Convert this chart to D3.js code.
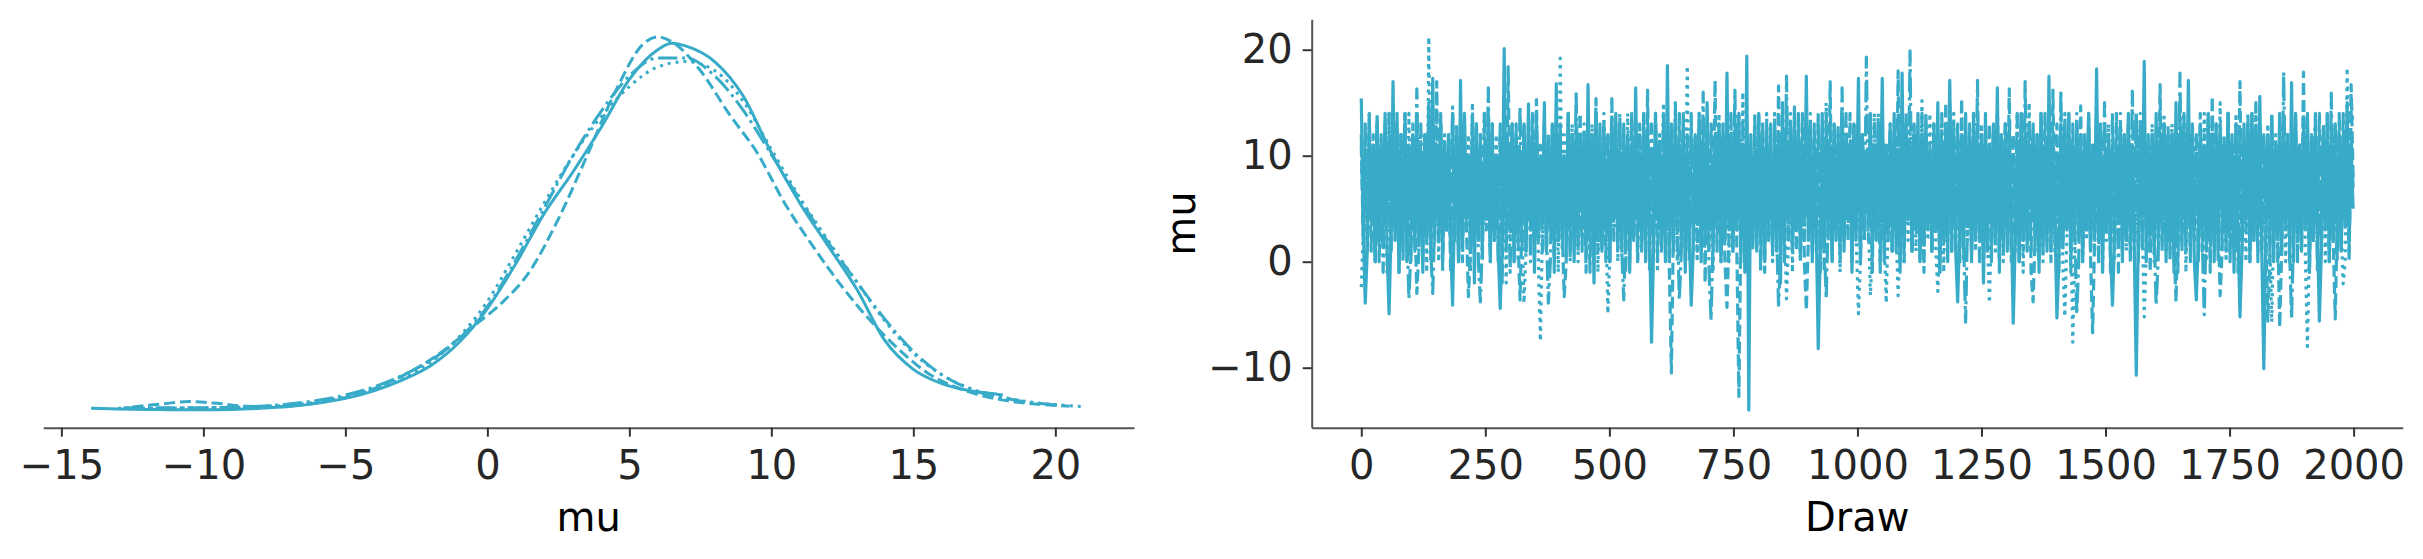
<!DOCTYPE html>
<html><head><meta charset="utf-8">
<script src="https://cdn.jsdelivr.net/npm/d3@7"></script>
<style>body{margin:0;background:#fff}</style>
</head><body>
<svg id="c" width="2423" height="559"></svg>
<script>
// ---------- DATA ----------
const kdeTicks = [-15, -10, -5, 0, 5, 10, 15, 20];
const drawTicks = [0, 250, 500, 750, 1000, 1250, 1500, 1750, 2000];
const muTicks = [-10, 0, 10, 20];

// KDE per chain: grid of mu values and density
const kdeGrid0 = [-13.9,-13,-12,-11,-10,-9,-8,-7,-6,-5,-4,-3,-2,-1,0,1,2,3,4,5,6,6.5,7,8,9,10,11,12,13,14,15,16,17,18,18.1];
const kdeDens0 = [0.0006,0.0004,0.0003,0.0002,0.0002,0.0003,0.0006,0.0011,0.0020,0.0034,0.0055,0.0085,0.0125,0.0190,0.0285,0.0410,0.0550,0.0665,0.0790,0.0925,0.1008,0.1026,0.1018,0.0975,0.0880,0.0720,0.0580,0.0460,0.0340,0.0195,0.0115,0.0075,0.0055,0.0045,0.0044];
const kdeGrid1 = [-12.5,-11.5,-10.5,-9.5,-8.5,-7.5,-6.5,-5.5,-4.5,-3.5,-2.5,-1.5,-0.5,0.5,1.5,2.5,3.5,4.5,5.5,6,6.5,7.5,8.5,9.5,10.5,11.5,12.5,13.5,14.5,15.5,16.5,17.5,18.5,19.5,20.5];
const kdeDens1 = [0.0010,0.0018,0.0025,0.0020,0.0012,0.0011,0.0016,0.0028,0.0046,0.0078,0.0118,0.0170,0.0235,0.0300,0.0390,0.0535,0.0710,0.0890,0.1025,0.1044,0.1030,0.0950,0.0830,0.0720,0.0575,0.0455,0.0345,0.0250,0.0170,0.0105,0.0065,0.0040,0.0025,0.0017,0.0012];
const kdeGrid2 = [-13,-12,-11,-10,-9,-8,-7,-6,-5,-4,-3,-2,-1,0,1,2,3,4,5,6,7,8,9,10,11,12,13,14,15,16,17,18,19,20,21];
const kdeDens2 = [0.0006,0.0006,0.0007,0.0008,0.0009,0.0011,0.0015,0.0024,0.0038,0.0060,0.0090,0.0135,0.0205,0.0305,0.0440,0.0580,0.0710,0.0820,0.0905,0.0960,0.0975,0.0950,0.0865,0.0730,0.0595,0.0475,0.0360,0.0250,0.0160,0.0100,0.0062,0.0040,0.0025,0.0016,0.0011];
const kdeGrid3 = [-12.8,-12,-11,-10,-9,-8,-7,-6,-5,-4,-3,-2,-1,0,1,2,3,4,5,6,7,8,9,10,11,12,13,14,15,16,17,18,19,20,20.3];
const kdeDens3 = [0.0008,0.0008,0.0008,0.0008,0.0009,0.0012,0.0018,0.0028,0.0043,0.0066,0.0098,0.0140,0.0200,0.0290,0.0420,0.0565,0.0710,0.0835,0.0935,0.0985,0.0985,0.0935,0.0840,0.0715,0.0590,0.0470,0.0360,0.0255,0.0165,0.0100,0.0060,0.0038,0.0024,0.0016,0.0014];

// Trace values per chain (every ~4th draw)
const chain0 = [
15.4,3,-3.9,1,12,4,10,0,13,2,11,5,14,1,-4.9,3,17.0,2,11,-1,
9,3,13,0,11,4,12,1,14,2,10,-1,12,3,15,1,17.3,2,11,4,
13,1,10,3,12,2,-4.1,5,11,0,17.1,2,14,4,10,1,12,-2,13,3,
11,2,9,4,14,0,12,3,10,1,-4.4,2,20.1,3,11,5,13,0,12,2,
10,4,13,1,14.9,3,11,-1,12,2,9,4,15,1,11,3,13,0,16.8,2,
12,3,10,1,14,4,11,0,13,2,12,5,10,1,16.7,3,11,-2,14,2,
13,1,11,3,9,0,12,4,14,2,10,1,13,3,12,-1,11,2,16.4,4,
10,2,13,0,12,3,-7.6,1,14,4,11,2,10,0,18.5,3,12,1,13,5,
11,2,14,-1,10,3,-4.1,1,12,4,13,0,11,2,15,3,9,1,12,4,
13,0,11,2,17.8,3,10,1,12,4,14,2,11,-1,19.4,-14.0,12,3,10,1,
14,2,12,0,11,4,13,1,10,3,12,-2,15,2,11,4,13,1,14.6,3,
12,1,11,4,17.5,2,13,0,10,3,-8.2,1,14,2,12,4,11,0,13,2,
10,3,14,1,12,4,11,-1,13,2,17.3,0,12,3,10,5,14,1,11,2,
13,4,17.3,0,11,2,12,3,14,1,10,-1,17.8,2,13,4,11,1,12,3,
14,0,11,2,13,4,10,1,12,3,15,-1,11,2,13,0,17.1,4,12,1,
-3.8,3,12,1,14,4,11,0,13,2,10,3,12,-2,14,1,11,4,13,2,
16.4,0,12,3,11,1,13,4,-5.8,2,10,0,14,3,12,1,11,5,13,2,
12,-1,14,3,11,1,17.5,2,10,4,-5.3,0,13,2,12,3,14,1,11,4,
13,2,10,0,12,3,14,1,11,4,18.2,2,13,-1,10,3,12,1,-4.1,2,
11,4,13,0,12,2,14,3,10,1,-10.7,2,13,4,18.9,0,11,3,12,1,
14,2,10,4,13,0,11,3,12,-1,15,2,11,4,13,1,17.1,3,12,0,
-3.6,2,13,4,11,1,14,3,12,0,10,2,13,5,11,1,14,3,12,-1,
10,3,-5.2,1,13,4,12,0,14,2,11,3,15.6,1,-10.1,2,12,4,13,0,
11,3,14,1,12,4,10,2,16.9,0,13,3,11,1,12,4,14,-1,10,2,
13,3,-5.6,1,12,4,14,0,11,2,13,3,10,1,12,4,15,2,11,5];
const chain1 = [
11,2,13,4,10,1,12,3,14,0,11,2,13,5,10,1,12,3,14,-1,
12,2,14,3,11,0,13,4,-3.0,1,10,3,12,2,14,0,11,4,17.0,2,
13,1,10,3,12,-1,14,2,11,4,13,0,12,3,-3.3,1,13.8,4,10,2,
12,0,14,3,11,1,13,2,10,4,12,-2,14,1,18.4,3,11,0,13,2,
-3.6,4,12,1,10,3,14,0,15.3,2,11,4,13,1,12,3,10,-1,14,2,
11,3,-3.3,0,13,2,12,4,10,1,14,3,11,-1,13,2,12,4,15.4,1,
10,3,13,0,12,2,14,4,11,1,13,3,10,-1,12,2,14,4,11,0,
13,2,12,4,16.2,1,10,3,14,0,11,2,13,4,12,-1,-10.5,3,11,1,
14,3,10,0,12,2,13,4,11,1,14,3,12,-2,10,2,13,4,17.1,1,
11,3,13,0,-4.3,2,12,4,14,1,-12.7,3,11,0,13,2,10,4,12,1,
14,3,11,-1,13,2,10,4,12,1,16.6,3,11,0,14,2,13,4,10,1,
12,3,14,0,-4.6,2,11,4,13,1,12,3,10,-1,14,2,17,0,11,3,
13,1,12,4,10,2,14,0,11,3,13,1,12,5,10,2,14,-1,11,3,
12,0,14,2,11,4,13,1,10,3,18,2,12,0,14,4,11,1,13,3,
10,2,12,-1,14,3,11,1,13,4,12,0,10,2,15,3,11,1,13,4,
12,0,15.4,2,11,3,13,1,10,4,14,2,12,-1,11,3,13,0,12,2,
14,4,11,1,13,3,16.3,0,12,2,10,4,14,1,11,3,13,-1,-3.8,2,
12,4,10,1,14,3,11,0,16.2,2,13,4,12,1,10,3,14,-1,11,2,
13,4,14.7,1,12,3,11,0,-6.7,2,14,4,10,1,13,3,12,-1,11,2,
14,4,12,1,10,3,13,0,11,2,14,4,12,1,13,3,10,-1,12,2,
11,4,16.7,1,13,3,12,0,10,2,-3.8,4,14,1,11,3,13,0,12,2,
10,4,14,1,12,3,11,-1,15.6,2,13,4,-3.2,1,12,3,14,0,11,2,
13,4,17,1,10,3,12,0,14,2,11,4,13,1,12,3,-5.6,0,14,2,
11,4,-6.2,1,13,3,12,0,10,2,14,4,11,1,17.9,3,13,-1,12,2,
10,4,14,1,12,3,11,0,13,2,-5.4,4,12,1,14,3,11,0,16.7,8];
const chain2 = [
-2.4,3,12,1,14,4,11,0,13,2,10,3,12,-1,14,2,11,4,13,1,
12,3,10,0,14,2,11,4,13,1,12,3,10,-1,21.2,2,11,4,14,0,
13,2,11,4,12,1,14,3,10,0,13,2,11,4,12,-1,15,2,10,3,
12,1,14,4,11,0,13,2,12,3,10,1,14,-2,11,2,13,4,12,0,
10,3,-3.9,1,13,4,11,2,14,0,-7.5,3,12,1,10,4,13,2,11,-1,
19.2,2,12,4,10,1,13,3,11,0,14,2,12,4,11,1,13,3,10,-1,
12,2,14,4,-4.9,1,11,3,13,0,12,2,10,4,14,1,11,3,13,0,
12,2,10,4,14,1,11,3,13,-1,12,2,15,4,10,1,12,3,14,0,
11,2,13,4,18.5,1,10,3,12,0,14,2,11,4,13,1,12,-1,10,3,
14,1,12,4,11,0,13,2,10,3,14,1,16.0,4,12,0,11,2,13,3,
12,1,10,4,14,2,11,0,13,3,12,1,10,4,-3.5,2,14,-1,11,3,
13,0,12,2,10,4,14,1,11,3,13,0,12,2,15,4,11,1,13,3,
10,-1,14,2,12,4,11,1,13,3,-4.9,0,12,2,10,4,-3.2,1,14,3,
11,0,13,2,-3.9,4,12,1,10,3,-3.2,2,14,0,11,2,13,4,12,1,
10,3,15.2,0,12,2,14,4,11,1,-2.8,3,13,-1,12,2,10,4,14,1,
11,3,13,0,12,2,10,4,14,1,11,3,13,0,12,2,-3.9,4,10,1,
14,3,11,0,13,2,12,4,10,1,14,3,11,-1,13,2,15,4,12,1,
10,3,13,0,11,2,14,4,12,1,10,3,13,0,-5.2,2,11,4,-7.6,1,
14,3,12,0,10,2,13,4,11,1,14,3,12,-1,10,2,13,4,11,0,
12,2,14,4,11,1,13,3,10,0,12,2,14,4,-5.2,1,11,3,13,0,
12,2,10,4,14,1,11,3,13,0,12,2,10,4,14,-1,11,2,13,4,
12,1,10,3,14,0,11,2,13,4,12,1,15,3,11,0,13,2,10,4,
14,1,12,3,11,0,13,2,10,4,14,1,12,3,11,-1,13,2,-5.7,4,
12,1,10,3,14,0,11,2,13,4,12,1,10,3,14,0,-8.0,2,11,4,
13,1,12,3,10,0,14,2,11,4,13,1,12,3,-2.1,0,18.3,4,15,13];
const chain3 = [
12,3,10,1,14,4,11,0,13,2,12,-1,10,3,14,1,11,4,13,2,
12,0,14,3,-3.5,1,11,4,16.3,2,13,0,10,3,12,1,-3.0,4,11,2,
14,-1,12,3,10,1,14.6,4,13,0,11,2,12,4,10,1,14,3,13,0,
-3.8,2,11,4,16.4,1,12,3,10,0,13,2,14,4,11,-1,12,2,10,4,
14.6,1,13,3,11,0,12,2,14,4,10,1,13,3,-3.9,0,12,2,11,4,
13,1,10,3,14,0,12,2,16,4,11,1,13,3,10,-1,12,2,14,4,
11,1,13,3,12,0,15.4,2,10,4,14,1,-3.6,3,11,0,13,2,12,4,
10,1,14,3,11,-1,13,2,12,4,10,1,14,3,11,0,13,2,15,4,
-3.6,1,12,3,10,0,14,2,11,4,13,1,16,3,12,-1,-5.5,2,11,4,
13,0,12,2,10,4,14,1,16.2,3,11,0,13,2,12,4,10,1,14,3,
11,-1,13,2,12,4,10,1,14,3,-4.1,0,13,2,17.5,4,11,1,12,3,
14,0,10,2,13,4,11,1,12,3,14,-1,10,2,-3.5,4,13,1,11,3,
12,0,16.4,2,14,4,11,1,13,3,10,0,12,2,19.3,4,11,1,13,3,
14,-1,12,2,10,4,13,1,11,3,14,0,12,2,10,4,19.9,1,13,3,
11,0,14,2,12,4,10,1,13,3,11,-1,14,2,12,4,15,1,10,3,
13,0,11,2,-5.7,4,12,1,14,3,17.1,0,11,2,13,4,10,1,12,3,
14,-1,11,2,13,4,12,1,10,3,14,0,11,2,17,4,13,1,12,3,
10,0,14,2,11,4,13,1,12,3,10,-1,16.2,2,14,4,11,1,13,3,
-5,0,12,2,10,4,14,1,11,3,13,0,12,2,15,4,10,1,14,3,
11,-1,13,2,12,4,10,1,16.1,3,14,0,11,2,13,4,12,1,10,3,
-4.1,0,14,2,11,4,13,1,12,3,10,-1,17.8,2,14,4,11,1,13,3,
12,0,10,2,-5,4,14,1,11,3,13,0,12,2,10,4,14,1,11,3,
13,-1,12,2,10,4,14,1,11,3,15,0,13,2,12,4,10,1,14,3,
11,0,13,2,17.9,4,12,1,-5.3,3,14,0,11,2,13,4,10,1,12,3,
14,-1,11,2,13,4,10,1,15.9,3,12,0,14,2,11,4,13,1,12,7];

// ---------- RENDER ----------
const color = "#38abc8";
const FONT = "DejaVu Sans";
const svg = d3.select("#c");
svg.append("rect").attr("width", 2423).attr("height", 559).attr("fill", "#fff");

const kx = d3.scaleLinear().domain([-15.64, 22.77]).range([43.2, 1134]);
const ky = d3.scaleLinear().domain([-0.0048, 0.1093]).range([427.7, 19.3]);
const tx = d3.scaleLinear().domain([-99.95, 2098.95]).range([1311.7, 2402.7]);
const ty = d3.scaleLinear().domain([-15.66, 22.87]).range([427.7, 19.3]);

const LW = 3, TLW = 3.2;
const dashOf = (lw) => [null, [3.7,1.6], [1,1.65], [6.4,1.6,1,1.6]].map(d => d ? d.map(v => v*lw).join(",") : null);

// KDE
const kdes = [[kdeGrid0,kdeDens0],[kdeGrid1,kdeDens1],[kdeGrid2,kdeDens2],[kdeGrid3,kdeDens3]];
const kline = d3.line().x(d => kx(d[0])).y(d => ky(d[1])).curve(d3.curveMonotoneX);
kdes.forEach(([g, v], c) => {
  svg.append("path").datum(g.map((x, i) => [x, v[i]]))
    .attr("d", kline).attr("fill", "none").attr("stroke", color)
    .attr("stroke-width", LW).attr("stroke-linejoin", "round")
    .attr("stroke-linecap", c === 0 ? "square" : "butt")
    .attr("stroke-dasharray", dashOf(LW)[c]);
});

// Trace
const chains = [chain0, chain1, chain2, chain3];
const tline = d3.line().x(d => tx(d[0])).y(d => ty(d[1]));
chains.forEach((vals, c) => {
  const n = vals.length;
  const pts = vals.map((v, i) => [Math.round(i * 1999 / (n - 1)), v]);
  svg.append("path").datum(pts)
    .attr("d", tline).attr("fill", "none").attr("stroke", color)
    .attr("stroke-width", TLW).attr("stroke-linejoin", "round")
    .attr("stroke-linecap", "butt")
    .attr("stroke-dasharray", dashOf(TLW)[c]);
});

function styleAxis(g) {
  g.attr("font-family", FONT).attr("font-size", 40);
  g.select(".domain").attr("stroke", "#555").attr("stroke-width", 2);
  g.selectAll(".tick line").attr("stroke", "#333").attr("stroke-width", 2);
  g.selectAll(".tick text").attr("fill", "#262626");
}
const fmt = d3.format("d");

svg.append("g").attr("transform", "translate(0,427.7)")
  .call(d3.axisBottom(kx).tickValues(kdeTicks).tickFormat(fmt).tickSize(9).tickPadding(14).tickSizeOuter(0))
  .call(styleAxis);
svg.append("g").attr("transform", "translate(0,427.7)")
  .call(d3.axisBottom(tx).tickValues(drawTicks).tickFormat(fmt).tickSize(9).tickPadding(14).tickSizeOuter(0))
  .call(styleAxis);
svg.append("g").attr("transform", "translate(1311.7,0)")
  .call(d3.axisLeft(ty).tickValues(muTicks).tickFormat(fmt).tickSize(9).tickPadding(10).tickSizeOuter(0))
  .call(styleAxis);

// Labels
svg.append("text").attr("x", (43.2 + 1134) / 2).attr("y", 531).attr("text-anchor", "middle")
  .attr("font-family", FONT).attr("font-size", 40).attr("fill", "#000").text("mu");
svg.append("text").attr("x", (1311.7 + 2402.7) / 2).attr("y", 531).attr("text-anchor", "middle")
  .attr("font-family", FONT).attr("font-size", 40).attr("fill", "#000").text("Draw");
svg.append("text").attr("transform", "translate(1195,223.5) rotate(-90)").attr("text-anchor", "middle")
  .attr("font-family", FONT).attr("font-size", 40).attr("fill", "#000").text("mu");
</script>
</body></html>
